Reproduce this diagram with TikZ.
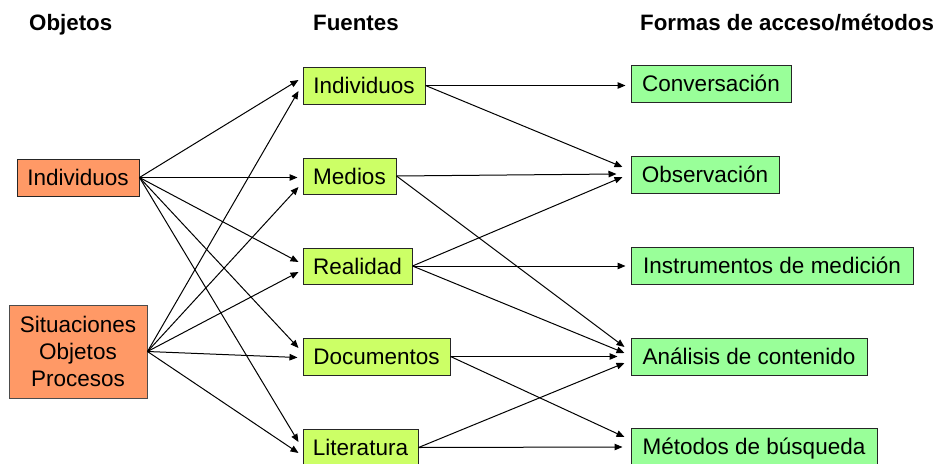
\documentclass[tikz,border=0pt]{standalone}
\usepackage{fontspec}
\setmainfont{Liberation Sans}
\usetikzlibrary{arrows.meta}
\definecolor{orng}{RGB}{255,153,102}
\definecolor{lime}{RGB}{204,255,102}
\definecolor{lgreen}{RGB}{153,255,153}
\begin{document}
\begin{tikzpicture}[x=1pt,y=-1pt,
  box/.style={draw=black!85, line width=1pt, inner sep=0pt,
    font=\fontsize{22.5}{27}\selectfont, text height=16pt, text depth=0pt},
  objbox/.style={box, fill=orng},
  srcbox/.style={box, fill=lime},
  metbox/.style={box, fill=lgreen},
  hdr/.style={font=\bfseries\fontsize{22.3}{26}\selectfont, inner sep=0pt, anchor=base west},
  arr/.style={-{Triangle[length=8pt,width=6.5pt]}, line width=1pt}]
\useasboundingbox (0,0) rectangle (944,463);
% headers
\node[hdr] (h1) at (29,30) {Objetos};
\node[hdr] (h2) at (313,30) {Fuentes};
\node[hdr] (h3) at (640,30) {Formas de acceso/métodos};
% objects
\node[objbox, minimum width=122pt, minimum height=37pt] (lind) at (78,177.5) {Individuos};
\node[box, fill=orng, draw=black!70, minimum width=138pt, minimum height=93pt,
      align=center, text height=, text depth=] (sit) at (78,351.5) {Situaciones\\Objetos\\Procesos};
% sources
\node[srcbox, minimum width=122pt, minimum height=37pt] (mind) at (364,85.5) {Individuos};
\node[srcbox, minimum width=93pt, minimum height=36pt] (med) at (349.5,176) {Medios};
\node[srcbox, minimum width=109pt, minimum height=36pt] (rea) at (357.5,266) {Realidad};
\node[srcbox, minimum width=147pt, minimum height=37pt] (doc) at (376.5,356.5) {Documentos};
\node[srcbox, minimum width=115pt, minimum height=37pt] (lit) at (360.5,447.5) {Literatura};
% methods
\node[metbox, minimum width=160pt, minimum height=37pt] (con) at (711,83.5) {Conversación};
\node[metbox, minimum width=148pt, minimum height=37pt] (obs) at (705,174.5) {Observación};
\node[metbox, minimum width=282pt, minimum height=37pt] (ins) at (772,265.5) {Instrumentos de medición};
\node[metbox, minimum width=236pt, minimum height=37pt] (ana) at (749,356.5) {Análisis de contenido};
\node[metbox, minimum width=246pt, minimum height=37pt] (met) at (754,446.5) {Métodos de búsqueda};
% objects -> sources
\draw[arr] (lind.east) -- ([xshift=-4pt,yshift=5.5pt]mind.west);
\draw[arr] (sit.east) -- ([xshift=-4pt,yshift=-5.5pt]mind.west);
\draw[arr] (lind.east) -- ([xshift=-5pt,yshift=-1.5pt]med.west);
\draw[arr] (sit.east) -- ([xshift=-4pt,yshift=-11pt]med.west);
\draw[arr] (lind.east) -- ([xshift=-4pt,yshift=4pt]rea.west);
\draw[arr] (sit.east) -- ([xshift=-4pt,yshift=-6pt]rea.west);
\draw[arr] (lind.east) -- ([xshift=-4pt,yshift=8.5pt]doc.west);
\draw[arr] (sit.east) -- ([xshift=-5pt,yshift=-1pt]doc.west);
\draw[arr] (lind.east) -- ([xshift=-4pt,yshift=5.5pt]lit.west);
\draw[arr] (sit.east) -- ([xshift=-4pt,yshift=-5.5pt]lit.west);
% sources -> methods
\draw[arr] (mind.east) -- ([xshift=-5pt,yshift=-2pt]con.west);
\draw[arr] (mind.east) -- ([xshift=-8pt,yshift=7.5pt]obs.west);
\draw[arr] (med.east) -- ([xshift=-14pt,yshift=0.5pt]obs.west);
\draw[arr] (rea.east) -- ([xshift=-8pt,yshift=-2.5pt]obs.west);
\draw[arr] (rea.east) -- ([xshift=-5pt,yshift=-0.5pt]ins.west);
\draw[arr] (med.east) -- ([xshift=-6pt,yshift=9.5pt]ana.west);
\draw[arr] (rea.east) -- ([xshift=-6pt,yshift=3.5pt]ana.west);
\draw[arr] (doc.east) -- ([xshift=-13pt,yshift=0pt]ana.west);
\draw[arr] (lit.east) -- ([xshift=-6pt,yshift=-6.5pt]ana.west);
\draw[arr] (doc.east) -- ([xshift=-6pt,yshift=9.5pt]met.west);
\draw[arr] (lit.east) -- ([xshift=-8pt,yshift=-0.5pt]met.west);
\end{tikzpicture}
\end{document}
